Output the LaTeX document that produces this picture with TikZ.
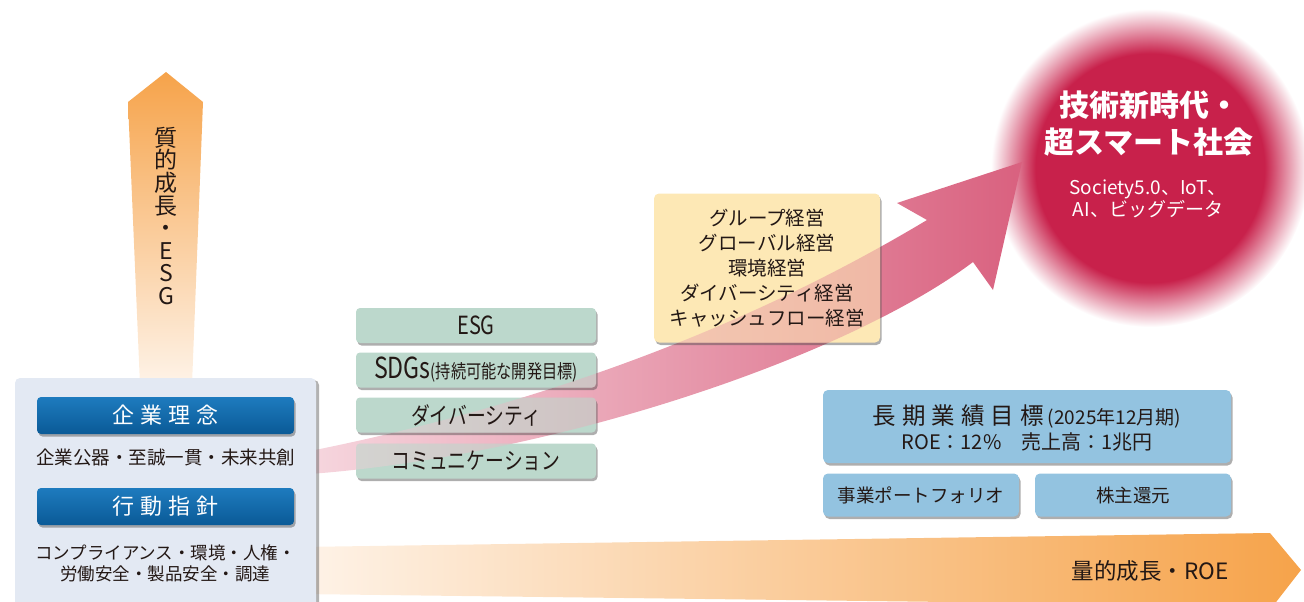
\documentclass[tikz,border=0pt]{standalone}
\usepackage{fontspec}
\setmainfont{Noto Sans CJK JP}
\newfontfamily\condfont[FakeStretch=0.8]{Noto Sans CJK JP}
\usetikzlibrary{shadows}
\definecolor{txt}{HTML}{231815}
\definecolor{cred}{HTML}{C8214B}
\definecolor{oranD}{HTML}{F6A34A}
\definecolor{oranL}{HTML}{FEF3E8}
\definecolor{pinkL}{HTML}{F6D6DE}
\definecolor{pinkR}{HTML}{D9617F}
\definecolor{leftbg}{HTML}{E3E9F3}
\definecolor{barT}{HTML}{1E7BBE}
\definecolor{barB}{HTML}{0A5A97}
\definecolor{greenbg}{HTML}{BCD8CC}
\definecolor{yellowbg}{HTML}{FDE8B5}
\definecolor{bluebg}{HTML}{93C3E0}
\pgfdeclareradialshading{redglow}{\pgfpoint{0bp}{0bp}}{color(0bp)=(cred); color(18bp)=(cred); color(25bp)=(white); color(50bp)=(white)}
\tikzset{
  shadowed/.style={drop shadow={shadow xshift=1.5pt, shadow yshift=-2.5pt, fill=black!70, opacity=0.45}},
  leftbox/.style={rounded corners=5pt, fill=leftbg, inner sep=0pt, drop shadow={shadow xshift=3pt, shadow yshift=-2pt, fill=black!60, opacity=0.5}},
  bar/.style={rounded corners=4pt, top color=barT, bottom color=barB, inner sep=0pt, shadowed, minimum width=257pt, minimum height=37pt, text=white, font=\fontsize{22}{22}\selectfont},
  greenbox/.style={rounded corners=4pt, fill=greenbg, inner sep=0pt, shadowed, minimum width=240pt, minimum height=35pt},
  ybox/.style={rounded corners=5pt, fill=yellowbg, inner sep=0pt, shadowed},
  bluebox/.style={rounded corners=5pt, fill=bluebg, inner sep=0pt, shadowed, font=\fontsize{18.5}{18.5}\selectfont},
  plain/.style={inner sep=0pt, align=center},
  gtext/.style={inner sep=0pt, font=\condfont\fontsize{23.5}{23.5}\selectfont},
  pinkarrow/.style={insert path={
    (310,451) .. controls (510,411) and (727,340) .. (927,220)
    -- (897,203) -- (1022,162) -- (993,290) -- (973,262)
    .. controls (850,355) and (560,455) .. (310,474) -- cycle}},
  pinkshade/.style={left color=pinkL, right color=pinkR},
}
\begin{document}
\begin{tikzpicture}[x=1pt, y=-1pt, text=txt]
\useasboundingbox (0,0) rectangle (1304,602);

% vertical arrow (qualitative growth)
\shade[top color=oranD, bottom color=oranL] (166,72) -- (203,102) -- (192,385) -- (140,385) -- (128,102) -- cycle;
\node[plain, font=\fontsize{23}{22.6}\selectfont] (vt) at (166,216) {質\\的\\成\\長\\・\\E\\S\\G};

% bottom arrow (quantitative growth)
\shade[left color=oranL, right color=oranD] (300,547) -- (1270,533) -- (1301,570) -- (1273,606) -- (300,594) -- cycle;
\node[plain, font=\fontsize{22.5}{22.5}\selectfont] (roe) at (1150,571) {量的成長・ROE};

% red circle
\node[circle, minimum size=318pt, inner sep=0pt, shade, shading=redglow] (goal) at (1150,168) {};
\node[plain, text=white, font=\fontsize{30}{37}\selectfont\bfseries] (goalt) at (1149,124) {技術新時代・\\超スマート社会};
\node[plain, text=white, font=\fontsize{19}{22.5}\selectfont] (goals) at (1148,199) {Society5.0、IoT、\\AI、ビッグデータ};

% pink curved arrow
\shade[pinkshade, pinkarrow];

% left box
\node[leftbox, minimum width=301pt, minimum height=234pt] (lb) at (165.5,495) {};
\node[bar] (rinen) at (165.5,415.5) {企\hspace{6pt}業\hspace{6pt}理\hspace{6pt}念};
\node[plain, font=\fontsize{18.5}{18.5}\selectfont] (rinent) at (165.5,457) {企業公器・至誠一貫・未来共創};
\node[bar] (shishin) at (165.5,506.5) {行\hspace{6pt}動\hspace{6pt}指\hspace{6pt}針};
\node[plain, font=\fontsize{17.5}{21}\selectfont] (shishint) at (165.5,563.5) {コンプライアンス・環境・人権・\\労働安全・製品安全・調達};

% green boxes
\node[greenbox] (esg) at (476,325.5) {};
\node[greenbox] (sdgs) at (476,370) {};
\node[greenbox] (div) at (476,415) {};
\node[greenbox] (com) at (476,461) {};
% yellow box
\node[ybox, minimum width=226pt, minimum height=149pt] (yb) at (767,268) {};

% arrow seen through the boxes
\foreach \b in {esg,sdgs,div,com,yb}{
  \begin{scope}
    \clip[rounded corners=4pt] (\b.south west) rectangle (\b.north east);
    \shade[pinkshade, pinkarrow, opacity=0.42];
  \end{scope}
}

\node[gtext] (esgt) at (476,325.5) {\fontsize{25}{25}\selectfont ESG};
\node[gtext] (sdgst) at (476,370) {\fontsize{29}{29}\selectfont SDGs{\fontsize{19}{19}\selectfont(持続可能な開発目標)}};
\node[gtext] (divt) at (476,415) {ダイバーシティ};
\node[gtext] (comt) at (476,461) {コミュニケーション};
\node[plain, font=\fontsize{19.5}{25}\selectfont] (ybt) at (767,268) {グループ経営\\グローバル経営\\環境経営\\ダイバーシティ経営\\キャッシュフロー経営};

% performance targets
\node[bluebox, minimum width=408pt, minimum height=73pt] (target) at (1027,426.5) {};
\node[plain] (target1) at (1027,416) {{\fontsize{23.5}{23.5}\selectfont 長\hspace{6pt}期\hspace{6pt}業\hspace{6pt}績\hspace{6pt}目\hspace{6pt}標}\hspace{4pt}{\fontsize{19}{19}\selectfont(2025年12月期)}};
\node[plain, font=\fontsize{20}{20}\selectfont] (target2) at (1027,442) {ROE：12\%　売上高：1兆円};
\node[bluebox, minimum width=196pt, minimum height=43pt] (port) at (921,495) {事業ポートフォリオ};
\node[bluebox, minimum width=196pt, minimum height=43pt] (kabu) at (1133,495) {株主還元};
\end{tikzpicture}
\end{document}
